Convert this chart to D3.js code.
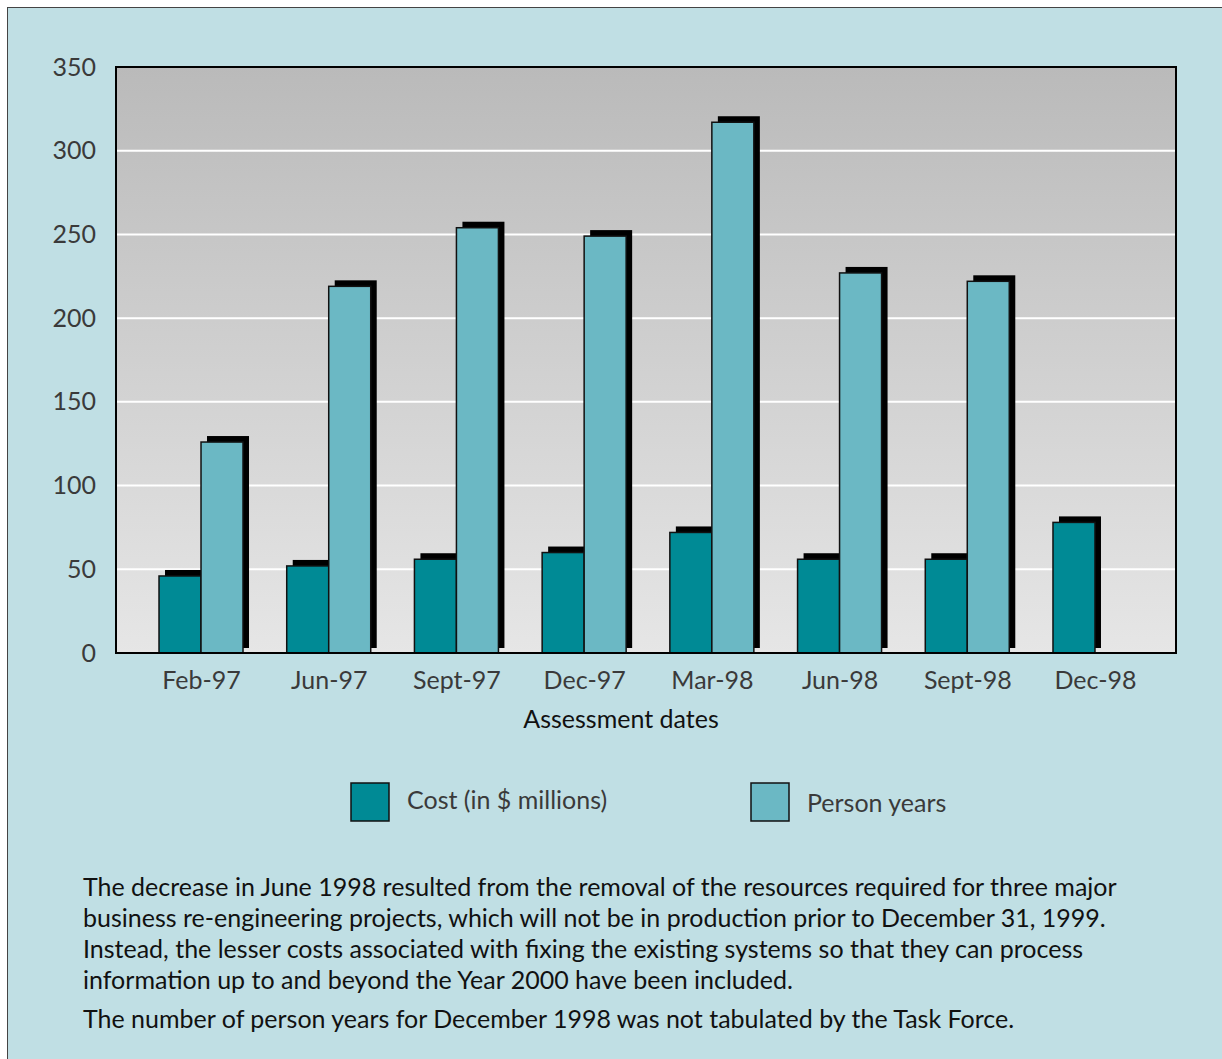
<!DOCTYPE html>
<html>
<head>
<meta charset="utf-8">
<title>Assessment dates</title>
<script src="https://cdn.jsdelivr.net/npm/d3@7"></script>
<style>
body { margin: 0; background: #fff; }
svg text { font-family: Lato, "Open Sans", sans-serif; }
.tick text { fill: #3a3a3a; font-size: 25px; }
.caption { fill: #111; font-size: 25px; }
</style>
</head>
<body>
<svg width="1222" height="1059"></svg>
<script>
// data
var dates = ["Feb-97", "Jun-97", "Sept-97", "Dec-97", "Mar-98", "Jun-98", "Sept-98", "Dec-98"];
var cost = [46, 52, 56, 60, 72, 56, 56, 78];
var personYears = [126, 219, 254, 249, 317, 227, 222, null];
var yTicks = [0, 50, 100, 150, 200, 250, 300, 350];
var legendLabels = ["Cost (in $ millions)", "Person years"];
var captionLines = [
  "The decrease in June 1998 resulted from the removal of the resources required for three major",
  "business re-engineering projects, which will not be in production prior to December 31, 1999.",
  "Instead, the lesser costs associated with fixing the existing systems so that they can process",
  "information up to and beyond the Year 2000 have been included.",
  "The number of person years for December 1998 was not tabulated by the Task Force."
];

var colors = ["#008a95", "#6bb8c4"];

var svg = d3.select("svg");

svg.append("rect")
    .attr("x", 7.5).attr("y", 7.5)
    .attr("width", 1222).attr("height", 1060)
    .attr("fill", "#c0dfe4")
    .attr("stroke", "#444").attr("stroke-width", 1);

var pLeft = 116, pRight = 1176, pTop = 67, pBottom = 653;

// category centres sit ~2px right of a symmetric layout
var x = d3.scalePoint().domain(dates).range([pLeft + 2, pRight + 2]).padding(0.65);
var y = d3.scaleLinear().domain([0, 350]).range([pBottom, pTop]);
var barW = 42;

var defs = svg.append("defs");
var grad = defs.append("linearGradient").attr("id", "bg")
    .attr("x1", 0).attr("y1", 0).attr("x2", 0).attr("y2", 1);
grad.append("stop").attr("offset", "0%").attr("stop-color", "#bababa");
grad.append("stop").attr("offset", "100%").attr("stop-color", "#e6e6e6");

svg.append("rect")
    .attr("x", pLeft).attr("y", pTop)
    .attr("width", pRight - pLeft).attr("height", pBottom - pTop)
    .attr("fill", "url(#bg)");

// gridlines
svg.append("g").selectAll("line")
    .data(yTicks.slice(1, -1))
  .enter().append("line")
    .attr("x1", pLeft).attr("x2", pRight)
    .attr("y1", function(d) { return y(d); })
    .attr("y2", function(d) { return y(d); })
    .attr("stroke", "#fff").attr("stroke-width", 2);

var series = [cost, personYears];
var bars = [];
series.forEach(function(vals, s) {
  dates.forEach(function(d, i) {
    if (vals[i] == null) return;
    bars.push({ date: d, s: s, v: vals[i] });
  });
});

function bx(d) { return x(d.date) - barW + d.s * barW; }

// shadows
svg.append("g").selectAll("rect")
    .data(bars)
  .enter().append("rect")
    .attr("x", function(d) { return bx(d) + 6; })
    .attr("y", function(d) { return y(d.v) - 6; })
    .attr("width", barW)
    .attr("height", function(d) { return pBottom - 5 - (y(d.v) - 6); })
    .attr("fill", "#000");

svg.append("g").selectAll("rect")
    .data(bars)
  .enter().append("rect")
    .attr("x", bx)
    .attr("y", function(d) { return y(d.v); })
    .attr("width", barW)
    .attr("height", function(d) { return pBottom - y(d.v); })
    .attr("fill", function(d) { return colors[d.s]; })
    .attr("stroke", "#111").attr("stroke-width", 1.5);

svg.append("rect")
    .attr("x", pLeft).attr("y", pTop)
    .attr("width", pRight - pLeft).attr("height", pBottom - pTop)
    .attr("fill", "none").attr("stroke", "#000").attr("stroke-width", 2);

// axes
var yAxis = svg.append("g")
    .attr("transform", "translate(" + pLeft + ",0)")
    .call(d3.axisLeft(y).tickValues(yTicks).tickSize(0).tickPadding(20));
yAxis.select(".domain").remove();

var xAxis = svg.append("g")
    .attr("transform", "translate(0," + pBottom + ")")
    .call(d3.axisBottom(x).tickSize(0).tickPadding(18));
xAxis.select(".domain").remove();

svg.append("text")
    .attr("x", 621).attr("y", 728)
    .attr("text-anchor", "middle")
    .attr("fill", "#111").style("font-size", "25px")
    .text("Assessment dates");

// legend
var legX = [351, 751];
legendLabels.forEach(function(t, i) {
  svg.append("rect")
      .attr("x", legX[i]).attr("y", 783)
      .attr("width", 38).attr("height", 38)
      .attr("fill", colors[i]).attr("stroke", "#111").attr("stroke-width", 1.5);
  svg.append("text")
      .attr("x", legX[i] + 56).attr("y", i == 0 ? 809 : 812)
      .attr("fill", "#3a3a3a").style("font-size", "25px")
      .text(t);
});

var capY = [896, 927, 958, 989, 1028];
svg.append("g").selectAll("text")
    .data(captionLines)
  .enter().append("text")
    .attr("class", "caption")
    .attr("x", 83)
    .attr("y", function(d, i) { return capY[i]; })
    .text(function(d) { return d; });
</script>
</body>
</html>
